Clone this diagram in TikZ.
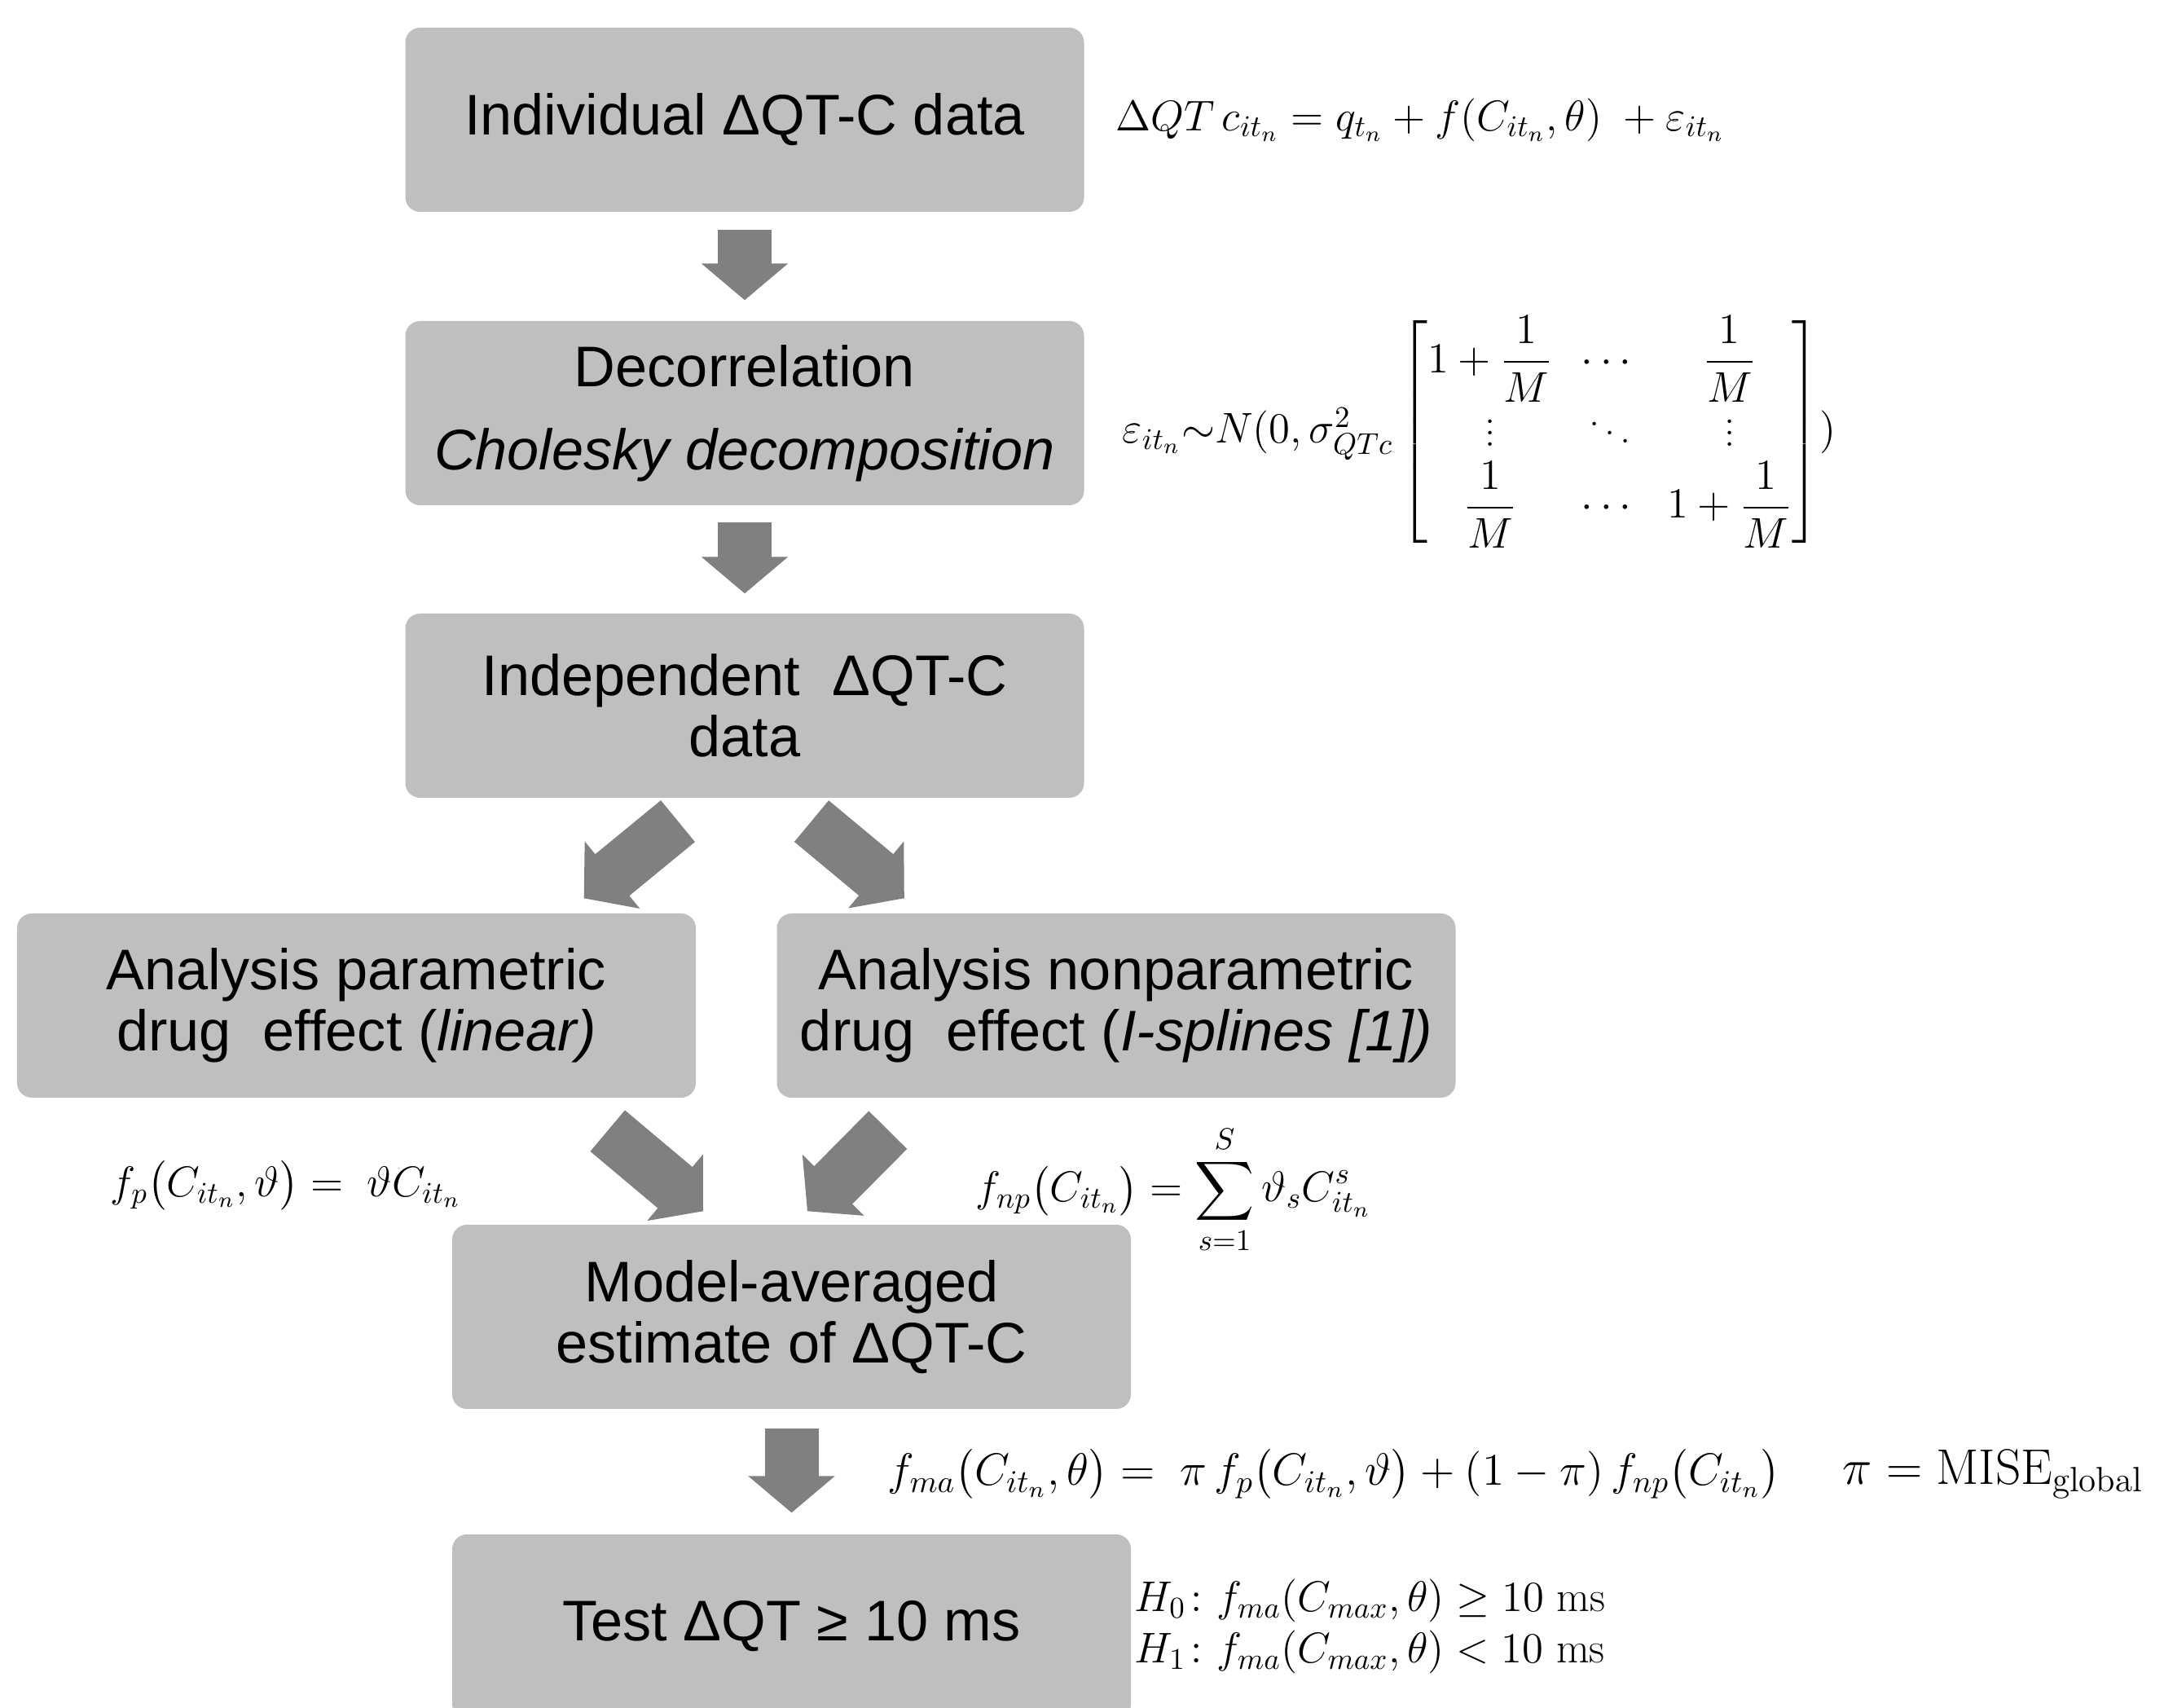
\RequirePackage{fix-cm}
\documentclass[tikz,border=0pt]{standalone}
\usepackage{amsmath}
\usepackage{fontspec}
\newfontfamily\boxfont{Liberation Sans}
\usetikzlibrary{arrows.meta}
\definecolor{boxgray}{HTML}{BFBFBF}
\definecolor{arrowgray}{HTML}{808080}

\begin{document}
\begin{tikzpicture}[
  grayblock/.style={fill=boxgray, rounded corners=0.18cm, minimum width=8.33cm,
    minimum height=2.26cm, align=center, inner sep=0pt,
    font=\boxfont\fontsize{20}{21.5}\selectfont},
  blockarrow/.style={draw=arrowgray, line width=0.66cm,
    -{Triangle[width=1.06cm, length=0.45cm, line width=1pt]}},
  formula/.style={inner sep=0pt, font=\fontsize{15}{18}\selectfont}
]
  \useasboundingbox (0,0) rectangle (26.56,20.96);

  \node[grayblock] (0) at (9.14,19.49) {Individual ΔQT-C data};
  \node[grayblock] (1) at (9.14,15.89) {Decorrelation\\[7.5pt]\textit{Cholesky decomposition}};
  \node[grayblock] (2) at (9.14,12.30) {Independent\ \ ΔQT-C\\data};
  \node[grayblock] (3) at (4.375,8.62) {Analysis parametric\\drug\ \ effect (\textit{linear)}};
  \node[grayblock] (4) at (13.70,8.62) {Analysis nonparametric\\drug\ \ effect (\textit{I-splines [1])}};
  \node[grayblock] (5) at (9.715,4.80) {Model-averaged\\estimate of ΔQT-C};
  \node[grayblock] (6) at (9.715,1.00) {Test ΔQT ≥ 10 ms};

  \node[formula, anchor=west] (e0) at (13.69,19.49)
    {$\Delta QT\,c_{it_n} = q_{t_n} + f(C_{it_n},\theta)\; + \varepsilon_{it_n}$};
  \node[formula, anchor=west] (e1) at (13.77,15.66)
    {$\varepsilon_{it_n}{\sim}N(0,\sigma^2_{QTc}\begin{bmatrix}
      1+\dfrac{1}{M} & \cdots & \dfrac{1}{M}\\
      \vdots & \ddots & \vdots\\
      \dfrac{1}{M} & \cdots & 1+\dfrac{1}{M}
    \end{bmatrix})$};
  \node[formula, anchor=east] (e2) at (5.67,6.41)
    {$f_p\big(C_{it_n},\vartheta\big) = \;\vartheta C_{it_n}$};
  \node[formula, anchor=west] (e3) at (11.97,6.36)
    {$f_{np}\big(C_{it_n}\big) = \displaystyle\sum_{s=1}^{S}\vartheta_s C^{s}_{it_n}$};
  \node[formula, anchor=west, font=\fontsize{15.8}{18}\selectfont] (e4) at (10.89,2.87)
    {$f_{ma}\big(C_{it_n},\theta\big) = \;\pi\, f_p\big(C_{it_n},\vartheta\big) + (1-\pi)\, f_{np}\big(C_{it_n}\big)$};
  \node[formula, anchor=west, font=\fontsize{17.5}{20}\selectfont] (e5) at (22.61,2.87)
    {$\pi = \mathrm{MISE}_{\mathrm{global}}$};
  \node[formula, anchor=west, align=left] (e6) at (13.92,1.00)
    {$H_0\colon f_{ma}(C_{max},\theta) \geq 10\ \mathrm{ms}$\\
     $H_1\colon f_{ma}(C_{max},\theta) < 10\ \mathrm{ms}$};

  \draw[blockarrow] ([yshift=-0.21cm]0.south) -- ([yshift=0.25cm]1.north);
  \draw[blockarrow] ([yshift=-0.20cm]1.south) -- ([yshift=0.24cm]2.north);
  \draw[blockarrow] ([xshift=-0.82cm,yshift=-0.28cm]2.south) -- ([xshift=-1.38cm,yshift=0.18cm]3.north east);
  \draw[blockarrow] ([xshift=0.82cm,yshift=-0.28cm]2.south) -- ([xshift=1.57cm,yshift=0.18cm]4.north west);
  \draw[blockarrow] ([xshift=-1.09cm,yshift=-0.40cm]3.south east) -- ([xshift=-1.085cm,yshift=0.16cm]5.north);
  \draw[blockarrow] ([xshift=1.37cm,yshift=-0.39cm]4.south west) -- ([xshift=0.195cm,yshift=0.16cm]5.north);
  \draw[blockarrow] ([yshift=-0.23cm]5.south) -- ([yshift=0.26cm]6.north);
\end{tikzpicture}
\end{document}
